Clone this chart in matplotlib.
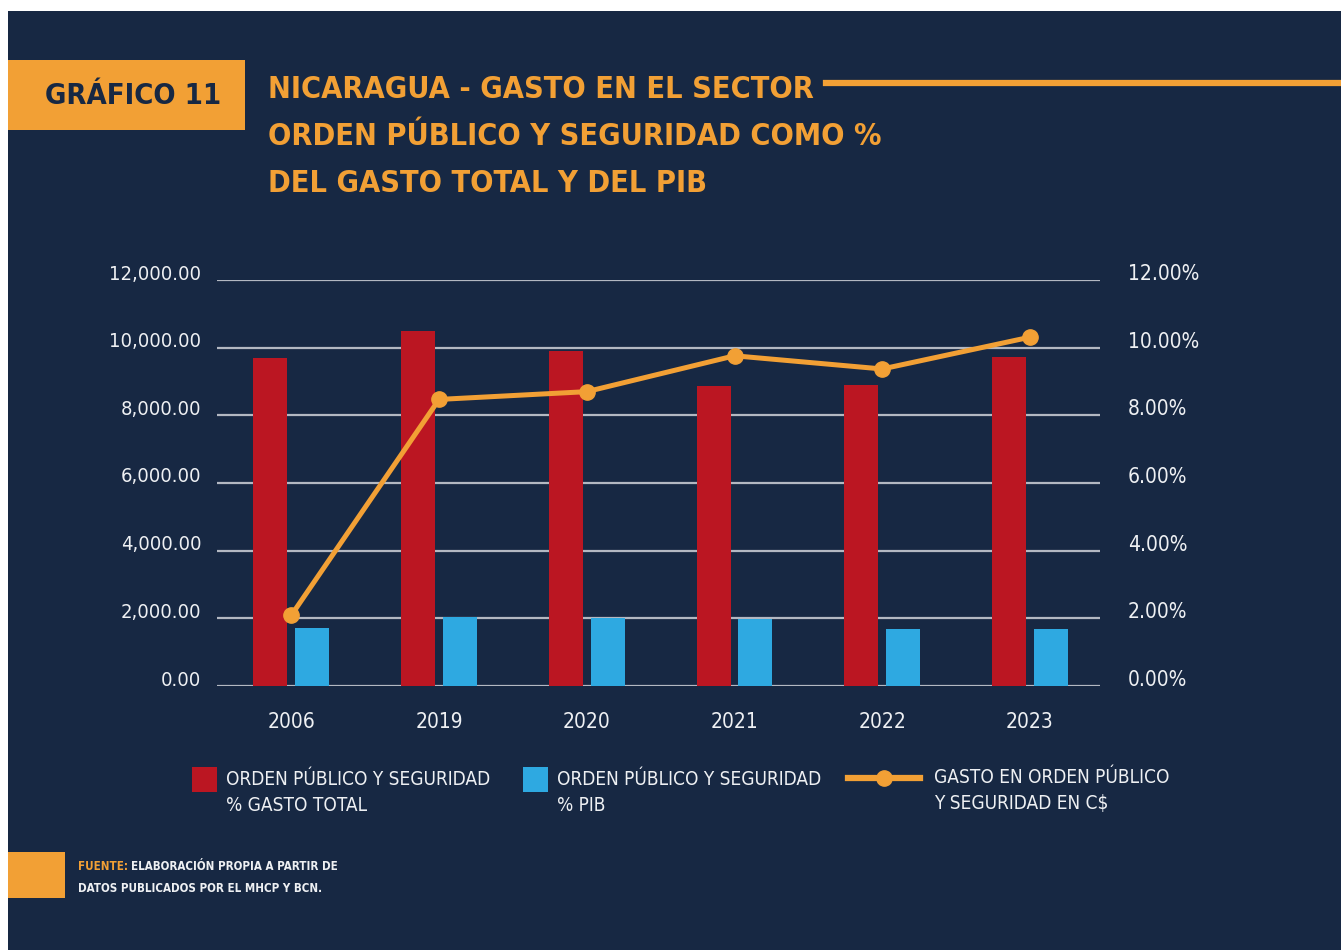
import matplotlib
matplotlib.use("Agg")
import matplotlib.pyplot as plt
import matplotlib.transforms as mtransforms
import numpy as np
from matplotlib.patches import Rectangle
from matplotlib.lines import Line2D

# Data
years = ['2006', '2019', '2020', '2021', '2022', '2023']
pct_gasto_total = [9.70, 10.50, 9.90, 8.87, 8.91, 9.73]      # % of total spending
pct_pib = [1.72, 2.05, 2.01, 1.98, 1.67, 1.67]               # % of GDP
gasto_cs = [2090, 8470, 8700, 9760, 9370, 10310]             # C$ (millions)

left_ticks = [0, 2000, 4000, 6000, 8000, 10000, 12000]
right_ticks = [0, 2, 4, 6, 8, 10, 12]

NAVY = '#172843'
RED = '#bb1622'
BLUE = '#2ea9e1'
ORANGE = '#f2a035'
GRID = '#b3b8c2'
TEXT = '#eef0f3'

plt.rcParams['font.family'] = ['DejaVu Sans']
plt.rcParams['font.stretch'] = 'condensed'

W, H = 1341, 950
fig = plt.figure(figsize=(W / 100, H / 100), dpi=100, facecolor='white')


def fx(x):
    return x / W


def fy(y):
    return 1 - y / H


# navy panel (white margin on top/left)
fig.add_artist(Rectangle((fx(8), 0), 1 - fx(8), fy(11), transform=fig.transFigure,
                         facecolor=NAVY, edgecolor='none', zorder=0))

# header
fig.add_artist(Rectangle((fx(8), fy(130)), fx(245) - fx(8), fy(60) - fy(130),
                         transform=fig.transFigure, facecolor=ORANGE, edgecolor='none'))
fig.text(fx(133), fy(96), 'GRÁFICO 11', color=NAVY, fontsize=21, fontweight='bold',
         ha='center', va='center')
title_lines = ['NICARAGUA - GASTO EN EL SECTOR',
               'ORDEN PÚBLICO Y SEGURIDAD COMO %',
               'DEL GASTO TOTAL Y DEL PIB']
for i, t in enumerate(title_lines):
    fig.text(fx(268), fy(89 + i * 47.5), t, color=ORANGE, fontsize=22,
             fontweight='bold', ha='left', va='center')
fig.add_artist(Line2D([fx(826), 1], [fy(83), fy(83)], transform=fig.transFigure,
                      color=ORANGE, lw=4.5))

# main axes: bars on the % scale (right), line on the C$ scale (left)
ax = fig.add_axes([fx(216.7), fy(686), fx(1100) - fx(216.7), fy(280) - fy(686)])
ax.set_facecolor('none')
x = np.arange(len(years))
bw = 0.23
off = 0.142
ax.bar(x - off, pct_gasto_total, bw, color=RED, zorder=2)
ax.bar(x + off, pct_pib, bw, color=BLUE, zorder=2)
ax.set_ylim(0, 12)
ax.set_xlim(-0.505, 5.474)
ax.set_xticks(x)
ax.set_xticklabels(years)
ax.grid(axis='y', color=GRID, lw=1.6, zorder=0)
ax.set_axisbelow(True)
for s in ax.spines.values():
    s.set_visible(False)

ax2 = ax.twinx()
ax2.plot(x, gasto_cs, color=ORANGE, lw=3.6, marker='o', markersize=11, zorder=3)
ax2.set_ylim(0, 12000)
ax2.set_yticks(left_ticks)
ax2.set_yticklabels([f'{v:,.2f}' for v in left_ticks])
ax2.yaxis.tick_left()
ax2.tick_params(axis='y', length=0, pad=11, labelsize=14.5, labelcolor=TEXT)
for s in ax2.spines.values():
    s.set_visible(False)

ax.yaxis.tick_right()
ax.set_yticks(right_ticks)
ax.set_yticklabels([f'{v:.2f}%' for v in right_ticks])
ax.tick_params(axis='y', length=0, pad=20, labelsize=15, labelcolor=TEXT)
ax.tick_params(axis='x', length=0, pad=19, labelsize=15, labelcolor=TEXT)

# y labels sit a little above their gridlines
lift = mtransforms.ScaledTranslation(0, 8 / 100, fig.dpi_scale_trans)
for lab in ax.get_yticklabels() + ax2.get_yticklabels():
    lab.set_transform(lab.get_transform() + lift)

# legend
fig.add_artist(Rectangle((fx(192), fy(792)), fx(25), fy(767) - fy(792),
                         transform=fig.transFigure, facecolor=RED, edgecolor='none'))
fig.text(fx(226), fy(792.5), 'ORDEN PÚBLICO Y SEGURIDAD\n% GASTO TOTAL', color=TEXT,
         fontsize=13.7, ha='left', va='center', linespacing=1.42)
fig.add_artist(Rectangle((fx(523), fy(792)), fx(25), fy(767) - fy(792),
                         transform=fig.transFigure, facecolor=BLUE, edgecolor='none'))
fig.text(fx(557), fy(792.5), 'ORDEN PÚBLICO Y SEGURIDAD\n% PIB', color=TEXT,
         fontsize=13.7, ha='left', va='center', linespacing=1.42)
fig.add_artist(Line2D([fx(848), fx(920)], [fy(778), fy(778)], transform=fig.transFigure,
                      color=ORANGE, lw=4.5))
fig.add_artist(Line2D([fx(884)], [fy(778)], transform=fig.transFigure, color=ORANGE,
                      marker='o', markersize=11))
fig.text(fx(934), fy(790.5), 'GASTO EN ORDEN PÚBLICO\nY SEGURIDAD EN C$', color=TEXT,
         fontsize=13.7, ha='left', va='center', linespacing=1.42)

# source
fig.add_artist(Rectangle((fx(8), fy(898)), fx(65) - fx(8), fy(852) - fy(898),
                         transform=fig.transFigure, facecolor=ORANGE, edgecolor='none'))
fig.text(fx(78), fy(866), 'FUENTE:', color=ORANGE, fontsize=8.3, fontweight='bold',
         ha='left', va='center')
fig.text(fx(131), fy(866), 'ELABORACIÓN PROPIA A PARTIR DE', color=TEXT, fontsize=8.3,
         fontweight='bold', ha='left', va='center')
fig.text(fx(78), fy(888), 'DATOS PUBLICADOS POR EL MHCP Y BCN.', color=TEXT,
         fontsize=8.3, fontweight='bold', ha='left', va='center')

fig.savefig('out.png', dpi=100, facecolor=fig.get_facecolor())
